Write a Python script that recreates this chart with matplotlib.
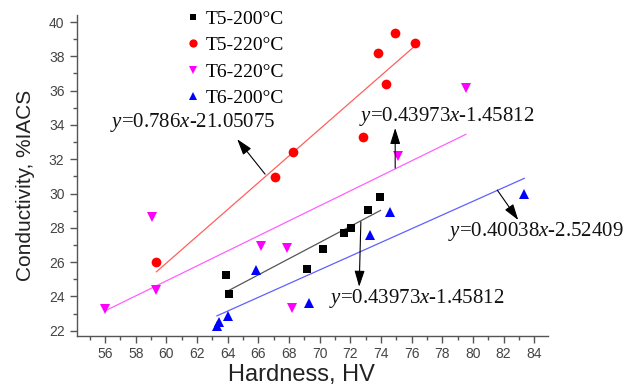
import numpy as np
import matplotlib
matplotlib.use("Agg")
import matplotlib.pyplot as plt

plt.rcParams['mathtext.fontset'] = 'custom'
plt.rcParams['mathtext.rm'] = 'Liberation Serif'
plt.rcParams['mathtext.it'] = 'Liberation Serif:italic'

# ---- data ----
t5_200_x = [63.88, 64.11, 69.2, 70.2, 71.56, 72.04, 73.15, 73.97]
t5_200_y = [25.24, 24.13, 25.59, 26.76, 27.71, 28.0, 29.03, 29.77]

t5_220_x = [59.35, 67.1, 68.29, 72.82, 73.8, 74.32, 74.93, 76.23]
t5_220_y = [26.0, 30.97, 32.4, 33.29, 38.17, 36.38, 39.38, 38.76]

t6_220_x = [56.02, 59.05, 59.35, 66.18, 67.88, 68.19, 75.1, 79.54]
t6_220_y = [23.26, 28.64, 24.36, 26.93, 26.83, 23.35, 32.18, 36.13]

t6_200_x = [63.3, 63.45, 64.01, 65.86, 69.32, 73.3, 74.6, 83.35]
t6_200_y = [22.25, 22.5, 22.87, 25.53, 23.62, 27.57, 28.93, 29.96]

labels = ["T5-200\u00b0C", "T5-220\u00b0C", "T6-220\u00b0C", "T6-200\u00b0C"]
equations = ["y=0.786x-21.05075", "y=0.43973x-1.45812",
             "y=0.40038x-2.52409", "y=0.43973x-1.45812"]

fig = plt.figure(figsize=(6.38, 3.85), dpi=100)
ax = fig.add_axes([77/638, 49/385, 471/638, 321/385])

series = [
    (t5_200_x, t5_200_y, 's', 'black', '#555555', 5.5),
    (t5_220_x, t5_220_y, 'o', '#ff0000', '#ff6060', 7),
    (t6_220_x, t6_220_y, 'v', '#ff00ff', '#ff60ff', 7.5),
    (t6_200_x, t6_200_y, '^', '#0000ff', '#6060ff', 7.5),
]
handles = []
for (xs, ys, m, c, lc, ms), lab in zip(series, labels):
    xs = np.array(xs); ys = np.array(ys)
    h, = ax.plot(xs, ys, linestyle='none', marker=m, color=c, ms=ms,
                 markeredgewidth=0, label=lab, zorder=3)
    handles.append(h)
    k, b = np.polyfit(xs, ys, 1)
    xx = np.array([xs.min(), xs.max()])
    ax.plot(xx, k * xx + b, color=lc, lw=0.9, zorder=2)

ax.set_xlim(54.17, 84.9)
ax.set_ylim(21.69, 40.41)
ax.set_xticks(np.arange(56, 85, 2))
ax.set_xticks(np.arange(55, 85, 1), minor=True)
ax.set_yticks(np.arange(22, 41, 2))
ax.set_yticks(np.arange(23, 41, 2), minor=True)
for s in ['top', 'right']:
    ax.spines[s].set_visible(False)
for s in ['left', 'bottom']:
    ax.spines[s].set_color('#555555')
    ax.spines[s].set_linewidth(1.0)
ax.tick_params(which='major', direction='out', length=5, width=1,
               color='#555555', labelsize=10, labelcolor='#444444')
ax.tick_params(which='minor', direction='out', length=3, width=1, color='#555555')
ax.tick_params(axis='x', pad=3)
ax.tick_params(axis='y', pad=4)

sans = ['Liberation Sans', 'DejaVu Sans']
for lab in ax.get_xticklabels() + ax.get_yticklabels():
    lab.set_family(sans)
ax.set_xlabel("Hardness, HV", fontsize=17, family=sans, color='#222222')
ax.set_ylabel("Conductivity, %IACS", fontsize=15, family=sans, color='#222222')
ax.xaxis.set_label_coords(0.477, -0.088)
ax.yaxis.set_label_coords(-0.09, 0.47)

serif = ['Liberation Serif', 'DejaVu Serif']
leg = ax.legend(handles=handles, loc='upper left', bbox_to_anchor=(0.21, 1.045),
                frameon=False, prop={'family': serif, 'size': 14},
                handlelength=0.8, handletextpad=0.25, labelspacing=0.45,
                borderpad=0, markerscale=0.85)

def eq_text(s):
    return s.replace('y=', r'$\it{y}$=').replace('x-', r'$\it{x}$-')

arrow = dict(arrowstyle='-|>,head_length=0.7,head_width=0.22', color='black',
             lw=0.8, mutation_scale=14, shrinkA=0, shrinkB=0)

ann = [
    (equations[0], (56.33, 34.17), (66.44, 31.13), (64.62, 33.17)),
    (equations[1], (72.58, 34.47), (74.93, 31.48), (74.93, 33.82)),
    (equations[2], (78.39, 27.77), (81.59, 30.2), (82.96, 28.45)),
    (equations[3], (70.62, 23.9), (72.69, 28.35), (72.58, 24.56)),
]
for txt, tpos, tail, head in ann:
    ax.text(tpos[0], tpos[1], eq_text(txt), ha='left', va='center',
            fontsize=15, family=serif, color='#111111')
    ax.annotate('', xy=head, xytext=tail, arrowprops=arrow)

fig.savefig("out.png", dpi=100)
